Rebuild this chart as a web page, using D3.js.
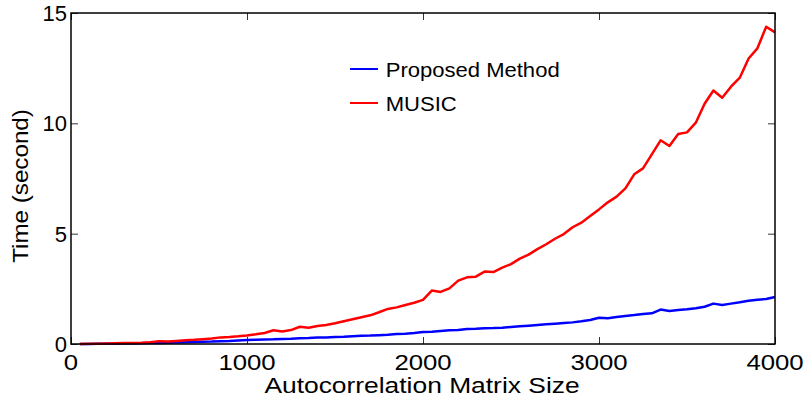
<!DOCTYPE html>
<meta charset="utf-8">
<style>
body { margin: 0; background: #fff; }
svg text { font-family: "Liberation Sans", Arial, sans-serif; fill: #000; }
.frame { fill: none; stroke: #000; stroke-width: 1.5px; }
.line { fill: none; stroke-width: 2.5px; stroke-linejoin: round; }
</style>
<svg width="804" height="402"></svg>
<script src="https://cdnjs.cloudflare.com/ajax/libs/d3/7.8.5/d3.min.js"></script>
<script>
// matrix sizes (x): every 50 from 50 to 4000
var sizes = [50,100,150,200,250,300,350,400,450,500,550,600,650,700,750,800,850,900,950,1000,
  1050,1100,1150,1200,1250,1300,1350,1400,1450,1500,1550,1600,1650,1700,1750,1800,1850,1900,1950,2000,
  2050,2100,2150,2200,2250,2300,2350,2400,2450,2500,2550,2600,2650,2700,2750,2800,2850,2900,2950,
  3000,3050,3100,3150,3200,3250,3300,3350,3400,3450,3500,3550,3600,3650,3700,3750,3800,3850,3900,3950,4000];

// time in seconds
var proposed = [0.00,0.00,0.01,0.01,0.01,0.02,0.02,0.03,0.04,0.05,0.06,0.07,0.08,0.09,0.10,0.11,0.13,0.14,0.16,0.18,
  0.19,0.20,0.21,0.23,0.24,0.26,0.27,0.29,0.30,0.32,0.33,0.35,0.37,0.38,0.40,0.42,0.45,0.47,0.50,0.54,
  0.56,0.59,0.62,0.63,0.68,0.69,0.71,0.72,0.74,0.77,0.80,0.83,0.86,0.89,0.92,0.95,0.98,1.03,1.09,
  1.19,1.17,1.22,1.27,1.31,1.36,1.39,1.56,1.50,1.54,1.57,1.62,1.69,1.83,1.77,1.83,1.89,1.96,2.01,2.04,2.13];

var music = [0.00,0.01,0.01,0.02,0.03,0.04,0.05,0.06,0.08,0.13,0.11,0.14,0.17,0.19,0.22,0.25,0.30,0.32,0.35,0.39,
  0.44,0.50,0.62,0.57,0.63,0.78,0.74,0.82,0.86,0.94,1.03,1.12,1.21,1.30,1.44,1.59,1.66,1.77,1.87,2.00,
  2.42,2.36,2.52,2.87,3.02,3.05,3.28,3.26,3.46,3.62,3.87,4.05,4.30,4.52,4.77,4.98,5.29,5.50,5.80,
  6.10,6.42,6.68,7.05,7.69,7.96,8.59,9.23,8.97,9.52,9.59,10.03,10.89,11.49,11.16,11.66,12.07,12.94,13.40,14.38,14.12];

var xTicks = [0, 1000, 2000, 3000, 4000];
var yTicks = [0, 5, 10, 15];
var seriesNames = ["Proposed Method", "MUSIC"];
var seriesColors = ["#0000ff", "#ff0000"];

var svg = d3.select("svg"),
    margin = {top: 13, right: 29, bottom: 58, left: 71},
    width = 804 - margin.left - margin.right,
    height = 402 - margin.top - margin.bottom,
    g = svg.append("g").attr("transform", "translate(" + margin.left + "," + margin.top + ")");

var x = d3.scaleLinear().domain([0, 4000]).range([0, width]);
var y = d3.scaleLinear().domain([0, 15]).range([height, 0]);

// axes, MATLAB style: ticks inside, on all four sides
var tickLen = 7;
g.append("g")
    .attr("transform", "translate(0," + height + ")")
    .call(d3.axisTop(x).tickValues(xTicks).tickSize(tickLen).tickFormat(""))
    .call(function(s) { s.select(".domain").remove(); });
g.append("g")
    .call(d3.axisBottom(x).tickValues(xTicks).tickSize(tickLen).tickFormat(""))
    .call(function(s) { s.select(".domain").remove(); });
g.append("g")
    .call(d3.axisRight(y).tickValues(yTicks).tickSize(tickLen).tickFormat(""))
    .call(function(s) { s.select(".domain").remove(); });
g.append("g")
    .attr("transform", "translate(" + width + ",0)")
    .call(d3.axisLeft(y).tickValues(yTicks).tickSize(tickLen).tickFormat(""))
    .call(function(s) { s.select(".domain").remove(); });
g.selectAll(".tick line").attr("stroke", "#333").attr("stroke-width", 1);

// tick labels
g.selectAll(".xlab")
    .data(xTicks)
  .enter().append("text")
    .attr("transform", function(d) { return "translate(" + x(d) + "," + (height + 26) + ") scale(1.17,1)"; })
    .attr("text-anchor", "middle")
    .style("font-size", "22px")
    .text(function(d) { return d; });

g.selectAll(".ylab")
    .data(yTicks)
  .enter().append("text")
    .attr("x", -4)
    .attr("y", function(d) { return y(d); })
    .attr("dy", "0.36em")
    .attr("text-anchor", "end")
    .style("font-size", "22px")
    .text(function(d) { return d; });

// axis titles
g.append("text")
    .attr("transform", "translate(" + (422 - margin.left) + "," + (height + 49) + ") scale(1.2,1)")
    .attr("text-anchor", "middle")
    .style("font-size", "22px")
    .text("Autocorrelation Matrix Size");

g.append("text")
    .attr("transform", "translate(" + (28 - margin.left) + "," + (186 - margin.top) + ") rotate(-90) scale(1.1,1)")
    .attr("text-anchor", "middle")
    .style("font-size", "22px")
    .text("Time (second)");

// lines
var line = d3.line()
    .x(function(d) { return x(d[0]); })
    .y(function(d) { return y(d[1]); });

[proposed, music].forEach(function(vals, i) {
  g.append("path")
      .datum(sizes.map(function(s, j) { return [s, vals[j]]; }))
      .attr("class", "line")
      .attr("stroke", seriesColors[i])
      .attr("d", line);
});

// frame
g.append("rect")
    .attr("class", "frame")
    .attr("width", width)
    .attr("height", height);

// legend
var legend = g.selectAll(".legend")
    .data(seriesNames)
  .enter().append("g")
    .attr("transform", function(d, i) { return "translate(" + (350 - margin.left) + "," + (69 - margin.top + i * 34) + ")"; });
legend.append("line")
    .attr("x1", 0).attr("x2", 28)
    .attr("stroke", function(d, i) { return seriesColors[i]; })
    .attr("stroke-width", 2);
legend.append("text")
    .attr("x", 34)
    .attr("dy", "0.36em")
    .attr("transform", "scale(1.05,1)")
    .style("font-size", "21px")
    .text(function(d) { return d; });
</script>
